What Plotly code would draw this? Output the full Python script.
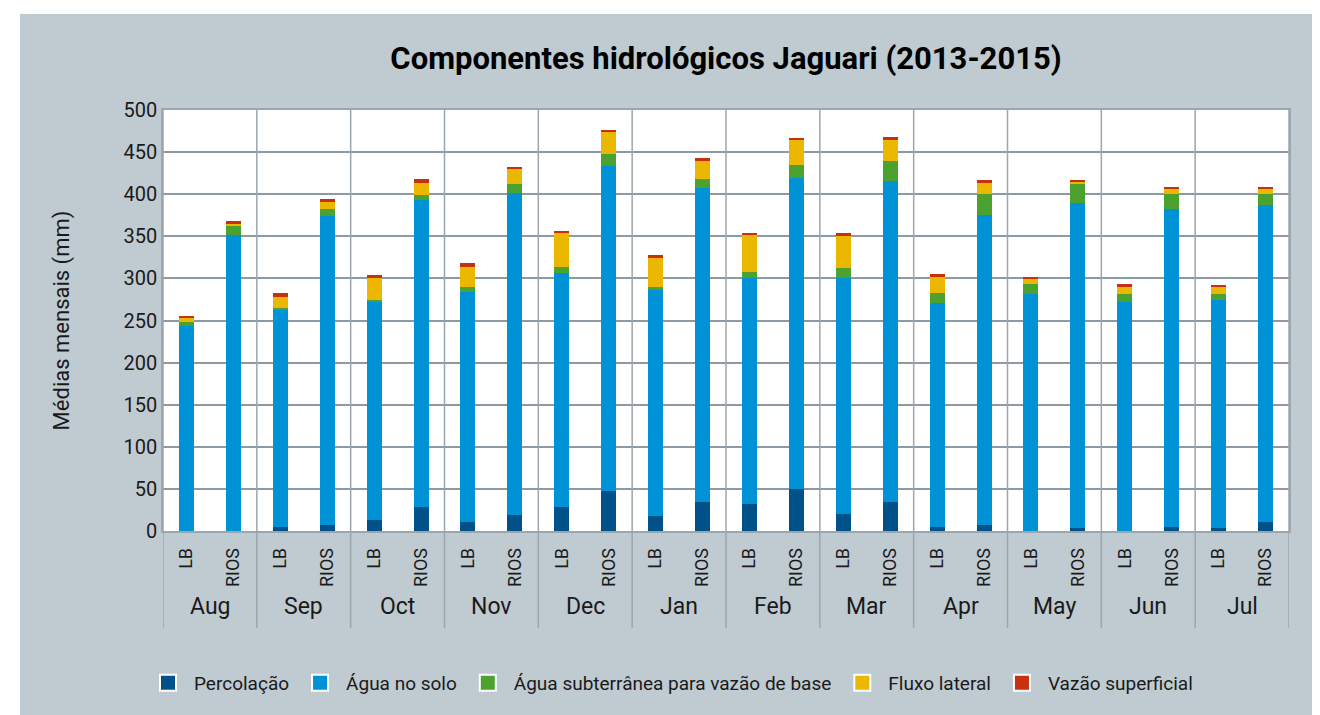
import plotly.graph_objects as go

# months and the two models compared in each month
months = ["Aug", "Sep", "Oct", "Nov", "Dec", "Jan", "Feb", "Mar", "Apr", "May", "Jun", "Jul"]
models = ["LB", "RIOS"]

# values per bar, order: Aug LB, Aug RIOS, Sep LB, Sep RIOS, ...
percolacao = [0, 0, 4.4, 6.7, 12.7, 28.1, 10.3, 18.6, 28.1, 47.1, 17.4, 34.0,
              31.6, 49.4, 19.8, 34.0, 4.4, 6.7, 0, 3.2, 0, 4.4, 3.2, 10.3]
agua_solo = [243.0, 351.0, 257.9, 367.9, 259.8, 365.5, 274.1, 383.3, 278.9, 386.8, 269.4, 373.8,
             269.4, 370.3, 281.2, 382.1, 265.8, 369.1, 282.0, 386.8, 272.5, 378.5, 271.7, 377.4]
agua_subterranea = [4.7, 10.7, 3.1, 8.3, 2.4, 5.9, 4.8, 10.7, 7.1, 14.3, 3.5, 10.7,
                    7.1, 15.4, 11.9, 23.8, 13.0, 24.9, 11.9, 22.6, 8.4, 17.8, 7.1, 13.0]
fluxo_lateral = [4.8, 3.1, 13.1, 8.3, 26.1, 14.3, 24.9, 17.8, 40.3, 26.1, 34.5, 21.4,
                 44.0, 29.7, 38.0, 24.9, 19.0, 13.1, 5.9, 2.4, 9.4, 5.9, 7.2, 5.9]
vazao_superficial = [3.1, 2.8, 4.7, 3.6, 3.6, 4.7, 4.7, 2.4, 2.4, 2.4, 3.5, 3.5,
                     2.3, 2.4, 3.5, 3.6, 3.6, 3.5, 2.4, 2.3, 3.6, 2.4, 3.5, 2.4]

series = [
    ("Percolação", percolacao, "#00508a"),
    ("Água no solo", agua_solo, "#0092d6"),
    ("Água subterrânea para vazão de base", agua_subterranea, "#4ca22f"),
    ("Fluxo lateral", fluxo_lateral, "#ebb700"),
    ("Vazão superficial", vazao_superficial, "#c8310f"),
]

cats = [m + " " + s for m in months for s in models]
cat_text = [s for _ in months for s in models]

FONT = "Roboto, Liberation Sans, sans-serif"
# page body adds an 8px margin, so the figure is 8px smaller
W, H = 1312, 707
L, R, T, B = 155, 31, 102, 184
pw = W - L - R
ph = H - T - B

def px_x(x):  # figure pixel -> paper
    return (x - L) / pw

def px_y(y):
    return (T + ph - y) / ph

fig = go.Figure()
for name, vals, col in series:
    fig.add_trace(go.Bar(x=cats, y=vals, name=name, showlegend=False,
                         marker=dict(color=col, line=dict(width=0))))
# legend entries with bigger square swatches
for name, vals, col in series:
    fig.add_trace(go.Scatter(x=[cats[0]], y=[None], name=name, mode="markers",
                             marker=dict(symbol="square", size=16, color=col,
                                         line=dict(color="white", width=2))))

shapes = []
shapes.append(dict(type="rect", xref="paper", yref="paper", layer="below",
                   x0=px_x(12), x1=px_x(W + 10), y0=px_y(H + 10), y1=px_y(6),
                   fillcolor="#bfcad1", line=dict(width=0)))
shapes.append(dict(type="rect", xref="paper", yref="paper", layer="below",
                   x0=0, x1=1, y0=0, y1=1, fillcolor="white", line=dict(width=0)))
# month separators, through the plot and down past the labels
for i in range(len(months) + 1):
    xb = i * len(models) - 0.5
    shapes.append(dict(type="line", xref="x", yref="paper", x0=xb, x1=xb,
                       y0=px_y(620), y1=1, line=dict(color="#9ba6ae", width=1.5)))

annotations = []
for i, m in enumerate(months):
    annotations.append(dict(text=m, xref="x", yref="paper", x=i * len(models) + 0.5,
                            y=px_y(598), showarrow=False, yanchor="middle",
                            font=dict(size=23, family=FONT, color="#1a1a1a")))

fig.update_layout(
    width=W, height=H,
    barmode="stack", bargap=0.68,
    paper_bgcolor="white", plot_bgcolor="rgba(0,0,0,0)",
    font=dict(family=FONT, color="#1a1a1a"),
    margin=dict(l=L, r=R, t=T, b=B),
    title=dict(text="<b>Componentes hidrológicos Jaguari (2013-2015)</b>",
               font=dict(size=31, family=FONT, color="black"),
               x=(L + pw / 2) / W, xanchor="center", y=1 - 50 / H, yanchor="middle"),
    shapes=shapes,
    annotations=annotations,
    legend=dict(orientation="h", x=px_x(662), xanchor="center", y=px_y(675), yanchor="middle",
                font=dict(size=19), traceorder="normal", bgcolor="rgba(0,0,0,0)",
                itemwidth=42),
    xaxis=dict(type="category", tickvals=cats, ticktext=cat_text, tickangle=-90,
               tickfont=dict(size=18), ticklabelstandoff=8,
               showgrid=False, showline=True, linecolor="#9ba6ae", linewidth=1.5, mirror=True,
               ticks="", range=[-0.5, len(cats) - 0.5]),
    yaxis=dict(range=[0, 500], dtick=50, tickfont=dict(size=20),
               title=dict(text="Médias mensais (mm)", font=dict(size=22), standoff=48),
               showgrid=True, gridcolor="#8e9aa3", gridwidth=1.5,
               showline=True, linecolor="#9ba6ae", linewidth=1.5, mirror=True,
               zeroline=False, ticks=""),
)

fig.write_html("out.html")
